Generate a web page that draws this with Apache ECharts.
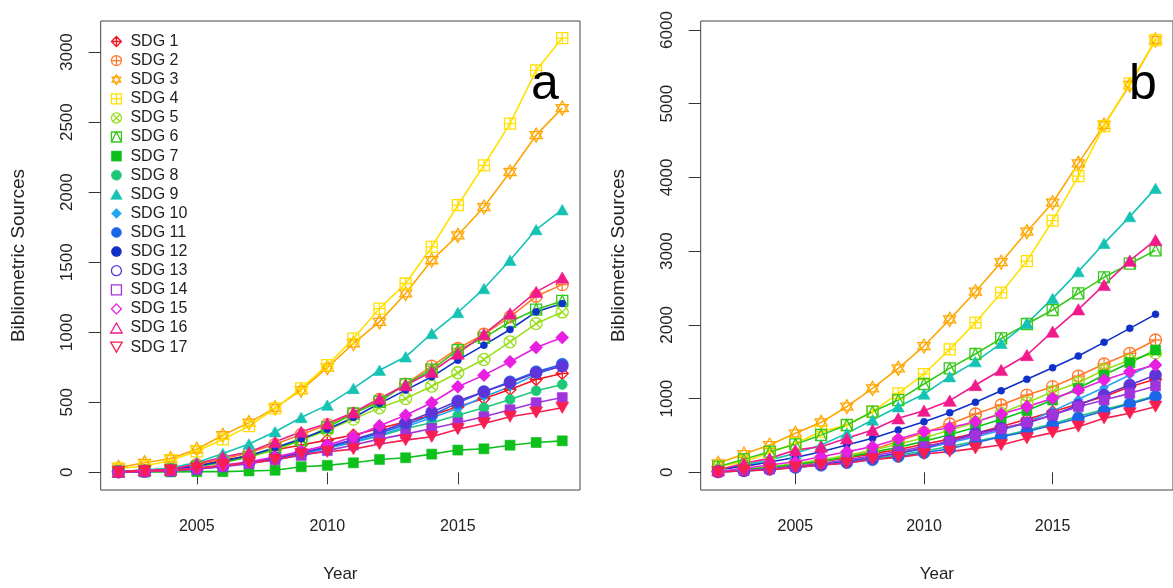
<!DOCTYPE html>
<html>
<head>
<meta charset="utf-8">
<script src="https://cdn.jsdelivr.net/npm/echarts@6/dist/echarts.min.js"></script>
<style>
  html, body { margin: 0; padding: 0; background: #ffffff; }
  #chart { width: 1173px; height: 588px; }
</style>
</head>
<body>
<div id="chart"></div>
<script>
// ---- data -------------------------------------------------------------
const YEARS = [2002, 2003, 2004, 2005, 2006, 2007, 2008, 2009, 2010,
               2011, 2012, 2013, 2014, 2015, 2016, 2017, 2018, 2019];
const SDG_NAMES = ['SDG 1', 'SDG 2', 'SDG 3', 'SDG 4', 'SDG 5', 'SDG 6', 'SDG 7', 'SDG 8', 'SDG 9',
                   'SDG 10', 'SDG 11', 'SDG 12', 'SDG 13', 'SDG 14', 'SDG 15', 'SDG 16', 'SDG 17'];
const X_TICKS = [2005, 2010, 2015];
const Y_TICKS_A = [0, 500, 1000, 1500, 2000, 2500, 3000];
const Y_TICKS_B = [0, 1000, 2000, 3000, 4000, 5000, 6000];

// panel a: bibliometric sources per year
const A_SDG1  = [8, 15, 25, 55, 85, 120, 160, 195, 230, 266, 313, 361, 408, 468, 527, 592, 663, 706];
const A_SDG2  = [5, 12, 25, 55, 95, 140, 200, 270, 340, 420, 520, 630, 758, 884, 986, 1110, 1257, 1340];
const A_SDG3  = [35, 68, 99, 165, 265, 355, 460, 587, 748, 920, 1074, 1277, 1514, 1692, 1894, 2144, 2407, 2600];
const A_SDG4  = [28, 45, 85, 150, 235, 330, 456, 599, 765, 955, 1169, 1348, 1609, 1907, 2192, 2489, 2869, 3100];
const A_SDG5  = [5, 10, 20, 40, 70, 110, 160, 230, 300, 380, 461, 527, 615, 711, 806, 932, 1062, 1145];
const A_SDG6  = [5, 10, 20, 40, 70, 110, 170, 230, 320, 420, 504, 630, 734, 872, 960, 1075, 1162, 1224];
const A_SDG7  = [0, 2, 3, 5, 5, 10, 15, 40, 50, 68, 92, 104, 130, 159, 168, 194, 213, 225];
const A_SDG8  = [3, 6, 12, 25, 45, 70, 100, 135, 175, 215, 260, 313, 354, 408, 461, 520, 582, 627];
const A_SDG9  = [5, 16, 31, 71, 135, 202, 290, 392, 480, 599, 729, 825, 991, 1141, 1312, 1514, 1733, 1875];
const A_SDG10 = [3, 6, 12, 24, 42, 65, 95, 130, 170, 215, 265, 325, 390, 456, 539, 611, 700, 765];
const A_SDG11 = [3, 6, 12, 25, 45, 70, 100, 135, 180, 225, 280, 340, 408, 496, 575, 646, 718, 772];
const A_SDG12 = [5, 10, 20, 45, 80, 120, 175, 240, 308, 392, 492, 587, 682, 801, 908, 1020, 1146, 1205];
const A_SDG13 = [3, 7, 14, 28, 48, 72, 105, 140, 185, 235, 290, 355, 430, 510, 575, 639, 711, 758];
const A_SDG14 = [2, 5, 10, 22, 40, 62, 90, 120, 155, 195, 237, 273, 313, 354, 397, 447, 497, 534];
const A_SDG15 = [3, 8, 15, 30, 50, 75, 110, 150, 194, 254, 332, 408, 497, 611, 694, 789, 891, 963];
const A_SDG16 = [5, 15, 20, 62, 110, 145, 218, 290, 349, 428, 527, 622, 718, 848, 986, 1134, 1288, 1390];
const A_SDG17 = [3, 9, 14, 28, 49, 68, 87, 130, 147, 166, 202, 230, 254, 308, 349, 397, 427, 461];

// panel b: bibliometric sources per year
const B_SDG1  = [15, 35, 65, 100, 145, 195, 250, 310, 380, 450, 530, 620, 720, 820, 927, 1026, 1162, 1261];
const B_SDG2  = [8, 31, 54, 99, 144, 212, 302, 424, 538, 655, 791, 913, 1048, 1162, 1306, 1469, 1614, 1795];
const B_SDG3  = [122, 248, 370, 529, 678, 890, 1139, 1410, 1713, 2075, 2450, 2850, 3264, 3657, 4191, 4711, 5254, 5864];
const B_SDG4  = [76, 144, 266, 393, 551, 640, 822, 1071, 1333, 1668, 2030, 2437, 2865, 3413, 4019, 4697, 5276, 5864];
const B_SDG5  = [15, 40, 75, 120, 170, 230, 300, 380, 470, 570, 680, 800, 944, 1094, 1216, 1388, 1523, 1620];
const B_SDG6  = [76, 176, 280, 380, 506, 642, 822, 980, 1198, 1410, 1605, 1817, 2012, 2202, 2428, 2645, 2830, 3010];
const B_SDG7  = [15, 35, 65, 105, 150, 205, 270, 340, 420, 510, 610, 720, 840, 980, 1140, 1320, 1487, 1659];
const B_SDG8  = [8, 20, 40, 68, 100, 140, 185, 235, 290, 350, 420, 490, 570, 660, 760, 850, 940, 1040];
const B_SDG9  = [31, 99, 167, 257, 370, 528, 710, 890, 1062, 1297, 1501, 1749, 2021, 2360, 2722, 3106, 3468, 3852];
const B_SDG10 = [10, 25, 45, 75, 110, 150, 200, 255, 320, 400, 480, 570, 680, 830, 990, 1150, 1320, 1478];
const B_SDG11 = [8, 20, 40, 65, 95, 130, 170, 215, 265, 320, 400, 483, 551, 642, 732, 832, 926, 1026];
const B_SDG12 = [40, 80, 140, 200, 280, 370, 461, 574, 687, 809, 949, 1107, 1261, 1419, 1577, 1763, 1953, 2143];
const B_SDG13 = [10, 25, 45, 75, 110, 150, 200, 260, 330, 420, 528, 596, 664, 777, 913, 1048, 1184, 1320];
const B_SDG14 = [8, 22, 45, 80, 120, 170, 225, 285, 350, 420, 500, 590, 680, 777, 890, 981, 1071, 1171];
const B_SDG15 = [8, 54, 99, 144, 212, 280, 348, 452, 551, 605, 687, 791, 890, 1003, 1116, 1252, 1365, 1455];
const B_SDG16 = [31, 122, 189, 302, 348, 461, 574, 732, 836, 972, 1184, 1388, 1591, 1908, 2211, 2541, 2871, 3150];
const B_SDG17 = [0, 22, 31, 67, 99, 122, 176, 203, 248, 280, 325, 370, 461, 538, 619, 732, 800, 890];

const PANEL_A = [A_SDG1, A_SDG2, A_SDG3, A_SDG4, A_SDG5, A_SDG6, A_SDG7, A_SDG8, A_SDG9,
                 A_SDG10, A_SDG11, A_SDG12, A_SDG13, A_SDG14, A_SDG15, A_SDG16, A_SDG17];
const PANEL_B = [B_SDG1, B_SDG2, B_SDG3, B_SDG4, B_SDG5, B_SDG6, B_SDG7, B_SDG8, B_SDG9,
                 B_SDG10, B_SDG11, B_SDG12, B_SDG13, B_SDG14, B_SDG15, B_SDG16, B_SDG17];

// ---- marker shapes (base-graphics style plotting symbols) ---------------
// All shapes are paths so that legend keys keep a square aspect.
const SHAPE = {
  diamondPlus: 'path://M0,-10L10,0L0,10L-10,0Z M0,-10L0,10 M-10,0L10,0',
  circlePlus:  'path://M-10,0A10,10 0 1,0 10,0A10,10 0 1,0 -10,0Z M-10,0L10,0 M0,-10L0,10',
  starDavid:   'path://M0,-10L8.66,5L-8.66,5Z M0,10L8.66,-5L-8.66,-5Z',
  squarePlus:  'path://M-10,-10L10,-10L10,10L-10,10Z M0,-10L0,10 M-10,0L10,0',
  circleX:     'path://M-10,0A10,10 0 1,0 10,0A10,10 0 1,0 -10,0Z M-7.07,-7.07L7.07,7.07 M-7.07,7.07L7.07,-7.07',
  squareTri:   'path://M-10,-10L10,-10L10,10L-10,10Z M-10,10L0,-10L10,10',
  square:      'path://M-10,-10L10,-10L10,10L-10,10Z',
  circle:      'path://M-10,0A10,10 0 1,0 10,0A10,10 0 1,0 -10,0Z',
  upTri:       'path://M0,-8.66L10,8.66L-10,8.66Z',
  diamond:     'path://M0,-10L10,0L0,10L-10,0Z',
  downTri:     'path://M-10,-8.66L10,-8.66L0,8.66Z'
};

// colour, symbol, size, whether the plotted marker is hollow, whether the legend key is hollow
const STYLE = [
  { color: '#f41820', symbol: SHAPE.diamondPlus, size: 12, open: true,  keyOpen: true },
  { color: '#ff7a2a', symbol: SHAPE.circlePlus,  size: 12, open: true,  keyOpen: true },
  { color: '#ffa600', symbol: SHAPE.starDavid,   size: 14, open: true,  keyOpen: true },
  { color: '#ffe000', symbol: SHAPE.squarePlus,  size: 11, open: true,  keyOpen: true },
  { color: '#98e01c', symbol: SHAPE.circleX,     size: 12, open: true,  keyOpen: true },
  { color: '#36c81a', symbol: SHAPE.squareTri,   size: 11, open: true,  keyOpen: true },
  { color: '#0ec01c', symbol: SHAPE.square,      size: 10, open: false, keyOpen: false },
  { color: '#1ec878', symbol: SHAPE.circle,      size: 10, open: false, keyOpen: false },
  { color: '#14c3b4', symbol: SHAPE.upTri,       size: 12, open: false, keyOpen: false },
  { color: '#20a6f2', symbol: SHAPE.diamond,     size: 9,  open: false, keyOpen: false },
  { color: '#1c66e8', symbol: SHAPE.circle,      size: 12, open: false, keyOpen: false },
  { color: '#1030c8', symbol: SHAPE.circle,      size: 7,  open: false, keyOpen: false },
  { color: '#5c34d8', symbol: SHAPE.circle,      size: 12, open: false, keyOpen: true },
  { color: '#a034dc', symbol: SHAPE.square,      size: 10, open: false, keyOpen: true },
  { color: '#e81ee0', symbol: SHAPE.diamond,     size: 13, open: false, keyOpen: true },
  { color: '#f01a8c', symbol: SHAPE.upTri,       size: 13, open: false, keyOpen: true },
  { color: '#f81e50', symbol: SHAPE.downTri,     size: 13, open: false, keyOpen: true }
];

const FONT = "'Liberation Sans', Arial, sans-serif";
const TEXT = '#222222';

function hollow(c) { return { color: 'rgba(255,255,255,0)', borderColor: c, borderWidth: 1.3 }; }
function solid(c)  { return { color: c, borderColor: c, borderWidth: 0.6 }; }
function plain(v)  { return String(v); }

function panelSeries(values, idx) {
  return SDG_NAMES.map((name, i) => {
    const st = STYLE[i];
    return {
      name: name,
      type: 'line',
      xAxisIndex: idx,
      yAxisIndex: idx,
      data: YEARS.map((yr, k) => [yr, values[i][k]]),
      symbol: st.symbol,
      symbolSize: st.size,
      symbolKeepAspect: true,
      showAllSymbol: true,
      lineStyle: { color: st.color, width: 1.6 },
      itemStyle: st.open ? hollow(st.color) : solid(st.color),
      emphasis: { disabled: true },
      silent: true,
      animation: false
    };
  });
}

const GRIDS = [
  { left: 100.7, top: 21, width: 479.3, height: 469 },
  { left: 700.7, top: 21, width: 479.3, height: 469 }
];

function xAxisFor(idx) {
  return {
    type: 'value', gridIndex: idx, min: 2001.32, max: 2019.68,
    axisLine: { show: false },
    axisTick: { show: true, customValues: X_TICKS, length: 12, lineStyle: { color: '#333', width: 1 } },
    axisLabel: { customValues: X_TICKS, formatter: plain, margin: 29, fontSize: 16, color: TEXT, fontFamily: FONT },
    splitLine: { show: false },
    name: 'Year', nameLocation: 'middle', nameGap: 76,
    nameTextStyle: { fontSize: 17, color: TEXT, fontFamily: FONT }
  };
}

function yAxisFor(idx, lo, hi, ticks) {
  return {
    type: 'value', gridIndex: idx, min: lo, max: hi,
    axisLine: { show: false },
    axisTick: { show: true, customValues: ticks, length: 12, lineStyle: { color: '#333', width: 1 } },
    axisLabel: { customValues: ticks, formatter: plain, rotate: 90, margin: 25, fontSize: 17, color: TEXT, fontFamily: FONT },
    splitLine: { show: false },
    name: 'Bibliometric Sources', nameLocation: 'middle', nameGap: 72, nameRotate: 90,
    nameTextStyle: { fontSize: 19, color: TEXT, fontFamily: FONT }
  };
}

const chart = echarts.init(document.getElementById('chart'), null, { renderer: 'canvas' });

chart.setOption({
  backgroundColor: '#ffffff',
  animation: false,
  title: [
    { text: 'a', left: 526, top: 55, textStyle: { fontSize: 50, fontWeight: 'normal', color: '#000', fontFamily: FONT } },
    { text: 'b', left: 1124, top: 55, textStyle: { fontSize: 50, fontWeight: 'normal', color: '#000', fontFamily: FONT } }
  ],
  grid: GRIDS.map(g => Object.assign({ show: true, borderColor: '#444', borderWidth: 1, backgroundColor: 'transparent', containLabel: false }, g)),
  xAxis: [xAxisFor(0), xAxisFor(1)],
  yAxis: [yAxisFor(0, -126, 3222, Y_TICKS_A), yAxisFor(1, -240, 6122, Y_TICKS_B)],
  legend: {
    orient: 'vertical',
    left: 110, top: 32,
    padding: 0,
    itemGap: 0.1,
    itemWidth: 18,
    itemHeight: 10,
    selectedMode: false,
    symbolKeepAspect: true,
    textStyle: { fontSize: 16, color: TEXT, fontFamily: FONT, lineHeight: 19 },
    data: SDG_NAMES.map((name, i) => ({
      name: name,
      icon: STYLE[i].symbol,
      itemStyle: STYLE[i].keyOpen ? hollow(STYLE[i].color) : solid(STYLE[i].color)
    }))
  },
  series: panelSeries(PANEL_A, 0).concat(panelSeries(PANEL_B, 1))
});
</script>
</body>
</html>
